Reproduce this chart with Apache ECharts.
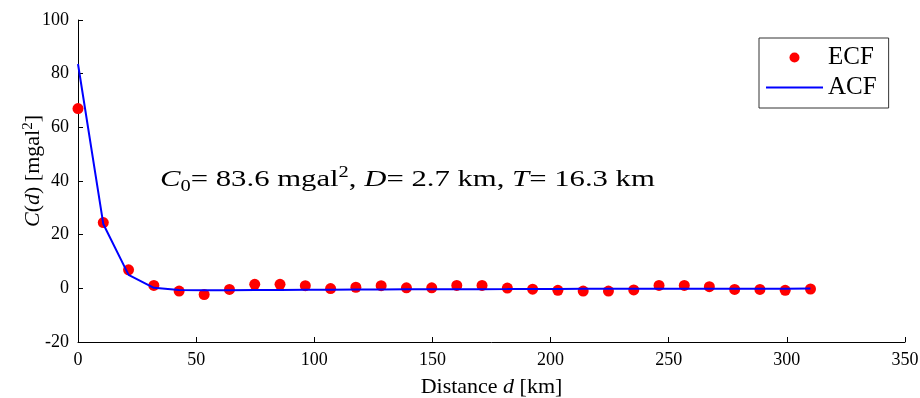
<!DOCTYPE html>
<html>
<head>
<meta charset="utf-8">
<script src="https://cdn.jsdelivr.net/npm/echarts@6/dist/echarts.min.js"></script>
<style>
  html, body { margin: 0; padding: 0; background: #fff; }
  #main { width: 920px; height: 398px; }
</style>
</head>
<body>
<div id="main"></div>
<script>
// lag distances (km)
var distance = [0, 10.7, 21.4, 32.1, 42.8, 53.4, 64.1, 74.8, 85.5, 96.2,
  106.9, 117.6, 128.3, 139.0, 149.7, 160.3, 171.0, 181.7, 192.4, 203.1,
  213.8, 224.5, 235.2, 245.9, 256.6, 267.2, 277.9, 288.6, 299.3, 310.0];
// empirical covariance (red dots)
var ecf = [67.0, 24.5, 6.9, 1.1, -1.0, -2.3, -0.4, 1.5, 1.5, 1.0,
  -0.1, 0.4, 1.0, 0.2, 0.2, 1.1, 1.1, 0.1, -0.3, -0.75,
  -1.0, -1.0, -0.6, 1.1, 1.1, 0.6, -0.4, -0.4, -0.75, -0.25];
// analytical covariance model (blue line)
var acf = [83.6, 24.0, 5.0, 0.2, -0.6, -0.75, -0.7, -0.65, -0.6, -0.55,
  -0.5, -0.45, -0.42, -0.38, -0.35, -0.32, -0.3, -0.28, -0.25, -0.22,
  -0.2, -0.18, -0.17, -0.16, -0.15, -0.14, -0.13, -0.12, -0.11, -0.1];
var xTicks = [0, 50, 100, 150, 200, 250, 300, 350];
var yTicks = [-20, 0, 20, 40, 60, 80, 100];

var FONT = '"Liberation Serif", "DejaVu Serif", serif';

function pairs(xs, ys) {
  return xs.map(function (x, i) { return [x, ys[i]]; });
}

var axisCommon = {
  type: 'value',
  splitLine: { show: false },
  nameMoveOverlap: false,
  axisLine: { show: true, onZero: false, lineStyle: { color: '#000', width: 1 } },
  axisTick: { show: true, inside: true, length: 5, lineStyle: { color: '#000' } },
  axisLabel: { color: '#000', fontFamily: FONT, fontSize: 18, margin: 9 }
};

var option = {
  animation: false,
  backgroundColor: '#fff',
  grid: { left: 78, right: 15, top: 20, bottom: 56, containLabel: false, outerBoundsMode: 'none' },
  xAxis: Object.assign({}, axisCommon, {
    min: xTicks[0], max: xTicks[xTicks.length - 1], interval: 50,
    name: '{n|Distance }{i|d}{n| [km]}',
    nameLocation: 'middle', nameGap: 34,
    nameTextStyle: {
      color: '#000',
      rich: {
        n: { fontFamily: FONT, fontSize: 22, color: '#000' },
        i: { fontFamily: FONT, fontSize: 22, fontStyle: 'italic', color: '#000' }
      }
    }
  }),
  yAxis: Object.assign({}, axisCommon, {
    min: yTicks[0], max: yTicks[yTicks.length - 1], interval: 20,
    name: '{i|C}{n|(}{i|d}{n|) [mgal}{sup|2}{n|]}',
    nameLocation: 'middle', nameGap: 33, nameRotate: 90,
    nameTextStyle: {
      color: '#000',
      padding: [0, 0, 0, 20],
      rich: {
        n: { fontFamily: FONT, fontSize: 22, color: '#000', lineHeight: 24 },
        i: { fontFamily: FONT, fontSize: 22, fontStyle: 'italic', color: '#000', lineHeight: 24 },
        sup: { fontFamily: FONT, fontSize: 15, color: '#000', verticalAlign: 'top', lineHeight: 24 }
      }
    }
  }),
  legend: {
    orient: 'vertical',
    left: 759, top: 38,
    padding: [7, 12, 8, 7],
    itemGap: 5,
    itemWidth: 57, itemHeight: 10,
    borderColor: '#333', borderWidth: 1,
    backgroundColor: '#fff',
    textStyle: { fontFamily: FONT, fontSize: 25, color: '#000' },
    data: [
      { name: 'ECF', icon: 'circle' },
      { name: 'ACF', icon: 'path://M0,0 L57,0 L57,2 L0,2 Z' }
    ]
  },
  graphic: [{
    type: 'text',
    left: 160, top: 165,
    scaleX: 1.28,
    style: {
      text: '{i|C}{sub|0}{n|= 83.6 mgal}{sup|2}{n|, }{i|D}{n|= 2.7 km, }{i|T}{n|= 16.3 km}',
      rich: {
        n: { fontFamily: FONT, fontSize: 24, fill: '#000', lineHeight: 30 },
        i: { fontFamily: FONT, fontSize: 24, fontStyle: 'italic', fill: '#000', lineHeight: 30 },
        sub: { fontFamily: FONT, fontSize: 16, fill: '#000', verticalAlign: 'bottom', lineHeight: 22 },
        sup: { fontFamily: FONT, fontSize: 16, fill: '#000', verticalAlign: 'top', lineHeight: 22 }
      }
    }
  }],
  series: [
    {
      name: 'ECF',
      type: 'scatter',
      symbol: 'circle',
      symbolSize: 11,
      itemStyle: { color: '#ff0000', opacity: 1 },
      data: pairs(distance, ecf)
    },
    {
      name: 'ACF',
      type: 'line',
      symbol: 'none',
      lineStyle: { color: '#0000ff', width: 2 },
      itemStyle: { color: '#0000ff' },
      data: pairs(distance, acf)
    }
  ]
};

var chart = echarts.init(document.getElementById('main'), null, { renderer: 'canvas' });
chart.setOption(option);
</script>
</body>
</html>
